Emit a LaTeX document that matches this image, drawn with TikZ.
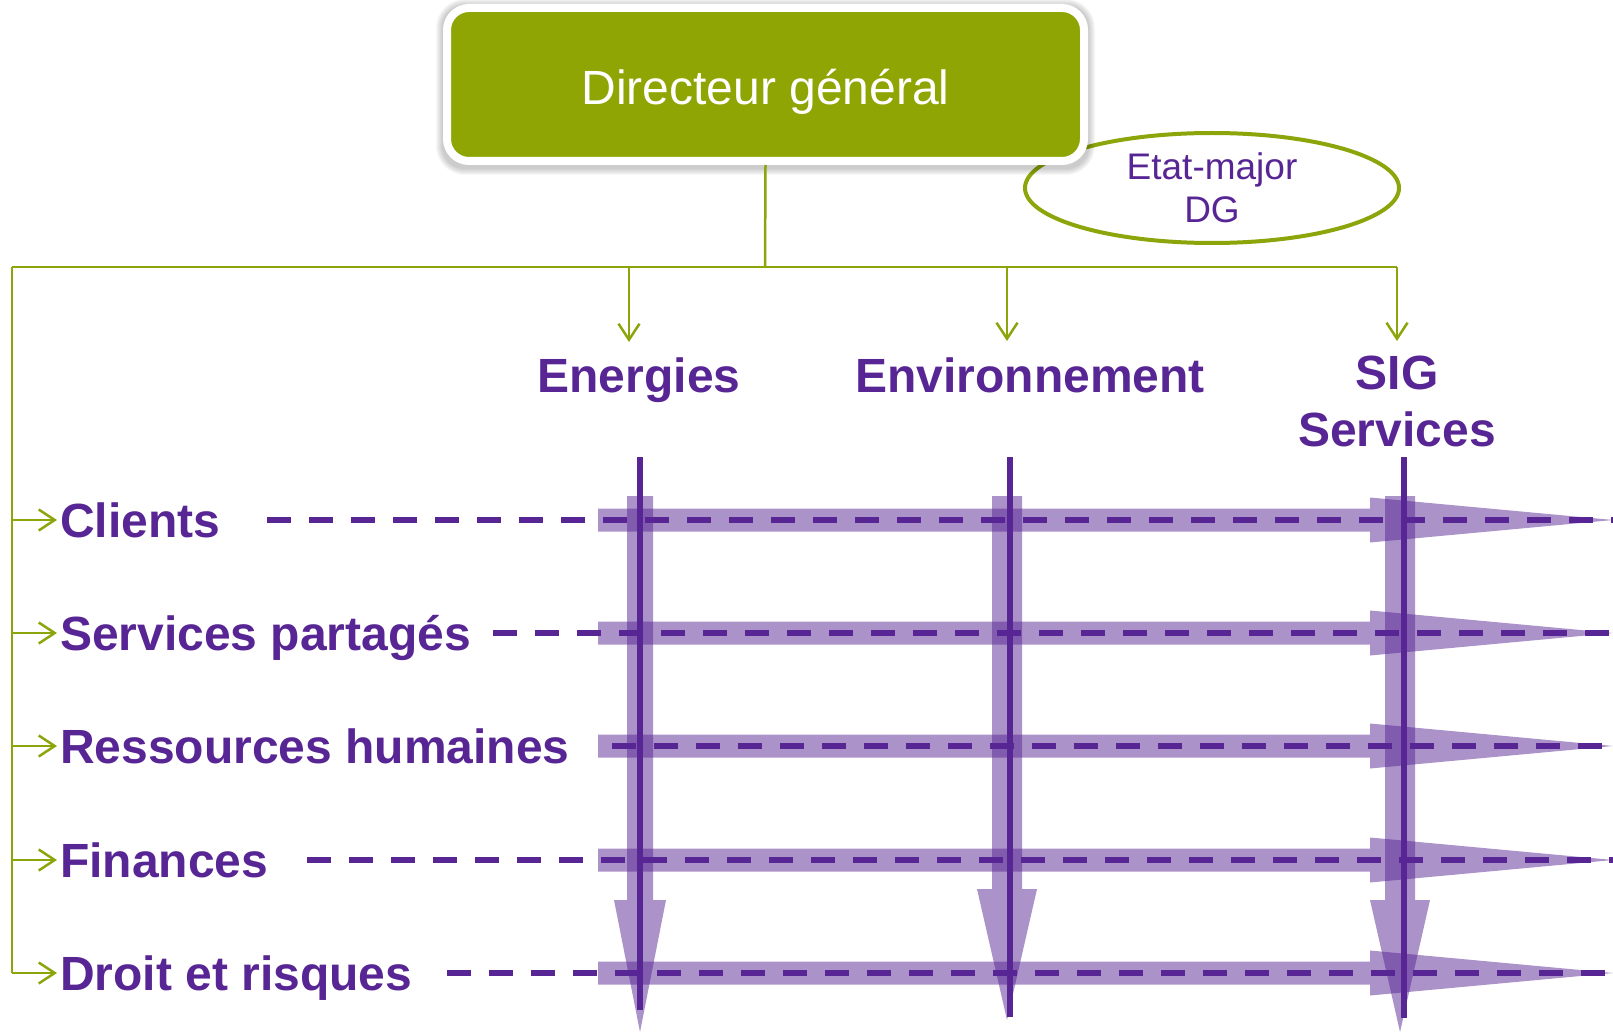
\documentclass[tikz,border=0pt]{standalone}
\usepackage{fontspec}
\setmainfont{Liberation Sans}
\usetikzlibrary{arrows.meta,shapes.geometric}
\definecolor{dgreen}{RGB}{142,165,4}
\definecolor{lgreen}{RGB}{140,165,10}
\definecolor{purp}{RGB}{88,38,148}
\begin{document}
\begin{tikzpicture}[x=1pt,y=-1pt,
  lbl/.style={font=\fontsize{48}{57}\selectfont\bfseries, text=purp, inner sep=0pt},
  rowlbl/.style={lbl, anchor=west, text height=34pt, text depth=0pt},
  gline/.style={draw=lgreen, line width=2.5pt},
  garrow/.style={gline, -{Straight Barb[length=16pt,width=21pt,line width=2.5pt]}},
  band/.style={fill=purp, fill opacity=0.5},
  dashline/.style={draw=purp, line width=5.5pt, dash pattern=on 24pt off 18pt},
  vline/.style={draw=purp, line width=6pt},
]
\useasboundingbox (0,0) rectangle (1613,1032);

% Etat-major ellipse
\node[ellipse, draw=lgreen, line width=4pt, minimum width=374pt, minimum height=110pt,
      inner sep=0pt, align=center, text=purp, font=\fontsize{37}{43}\selectfont]
      (em) at (1212,188) {Etat-major\\DG};

% soft shadow of the DG box
\foreach \i in {1,...,7}{
  \fill[black, opacity=0.03, rounded corners={22pt+\i pt}]
    ({443-\i},{6-\i}) rectangle ({1088+\i},{168+\i});
}

% green connectors (behind the box)
\coordinate (j0) at (765,267);
\coordinate (jl) at (12,267);
\coordinate (j1) at (629,267);
\coordinate (j2) at (1007,267);
\coordinate (j3) at (1397,267);
\coordinate (t1) at (629,342);
\coordinate (t2) at (1007,341);
\coordinate (t3) at (1397,341);

% Director box
\node[fill=dgreen, draw=white, line width=8pt, rounded corners=22pt,
      minimum width=637pt, minimum height=153pt, inner sep=0pt, text=white,
      font=\fontsize{48}{52}\selectfont, text height=41pt, text depth=0pt]
      (dg) at (765.5,84.5) {Directeur général};

\draw[gline] (dg.south) -- (j0);
\draw[gline] (jl) -- (j3);
\draw[garrow] (j1) -- (t1);
\draw[garrow] (j2) -- (t2);
\draw[garrow] (j3) -- (t3);

% column headers
\node[lbl, anchor=base] (energ) at (639,392) {Energies};
\node[lbl, anchor=base] (envir) at (1030,392) {Environnement};
\node[lbl, align=center] (sig) at (1397,401) {SIG\\Services};

% row labels
\node[rowlbl] (r1) at (60,520) {Clients};
\node[rowlbl] (r2) at (60,633) {Services partagés};
\node[rowlbl] (r3) at (60,746) {Ressources humaines};
\node[rowlbl] (r4) at (60,860) {Finances};
\node[rowlbl] (r5) at (60,973) {Droit et risques};

\coordinate (b1) at (12,520);
\coordinate (b2) at (12,633);
\coordinate (b3) at (12,746);
\coordinate (b4) at (12,860);
\coordinate (b5) at (12,973);
\draw[gline] (jl) -- (b5);
\foreach \k in {1,...,5}{
  \draw[garrow, shorten >=3pt] (b\k) -- (r\k.west);
}

% horizontal translucent arrows
\foreach \y in {520,633,746,860,973}{
  \fill[band] (598,{\y-11.5}) -- (1370,{\y-11.5}) -- (1370,{\y-22.5}) -- (1613,\y)
     -- (1370,{\y+22.5}) -- (1370,{\y+11.5}) -- (598,{\y+11.5}) -- cycle;
}
% vertical translucent arrows
\foreach \xc/\sw/\hw/\hs/\tp in {640/13/26/900/1032, 1007/15/30/889/1020, 1400/15/30/900/1032}{
  \fill[band] ({\xc-\sw},496) -- ({\xc+\sw},496) -- ({\xc+\sw},\hs) -- ({\xc+\hw},\hs)
     -- (\xc,\tp) -- ({\xc-\hw},\hs) -- ({\xc-\sw},\hs) -- cycle;
}

% dashed lines
\foreach \y/\xs in {520/267, 633/493, 746/612, 860/307, 973/447}{
  \draw[dashline] (\xs,\y) -- (1613,\y);
}

% dark vertical lines
\draw[vline] (640,457) -- (640,1010);
\draw[vline] (1010,457) -- (1010,1017);
\draw[vline] (1404,457) -- (1404,1018);
\end{tikzpicture}
\end{document}
